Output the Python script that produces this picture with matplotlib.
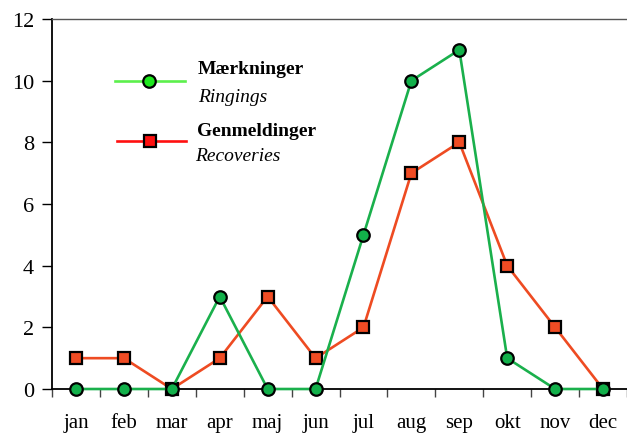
import matplotlib.pyplot as plt
from matplotlib.lines import Line2D

# data
months = ["jan", "feb", "mar", "apr", "maj", "jun", "jul", "aug", "sep", "okt", "nov", "dec"]
ringings = [0, 0, 0, 3, 0, 0, 5, 10, 11, 1, 0, 0]
recoveries = [1, 1, 0, 1, 3, 1, 2, 7, 8, 4, 2, 0]
yticks = [0, 2, 4, 6, 8, 10, 12]

plt.rcParams['font.family'] = ['Liberation Serif', 'DejaVu Serif']

fig = plt.figure(figsize=(6.27, 4.39), dpi=100)
ax = fig.add_axes([0.083, 0.1116, 0.917, 0.8428])

x = list(range(len(months)))
ax.plot(x, recoveries, color="#ee4b22", lw=1.9, marker="s", ms=9,
        mfc="#f04c24", mec="black", mew=1.6, clip_on=False, zorder=3)
ax.plot(x, ringings, color="#1ab04c", lw=1.9, marker="o", ms=9,
        mfc="#12b04a", mec="black", mew=1.6, clip_on=False, zorder=4)

ax.set_xlim(-0.5, 11.5)
ax.set_ylim(0, 12)
ax.set_yticks(yticks)
ax.set_yticklabels([str(v) for v in yticks], fontsize=16)
ax.set_xticks([i + 0.5 for i in range(-1, 12)])
ax.set_xticklabels([])
ax.set_xticks(x, minor=True)
ax.set_xticklabels(months, minor=True, fontsize=15)
ax.tick_params(axis="x", which="minor", length=0, pad=17)
ax.tick_params(axis="x", which="major", direction="out", length=6, width=1, color="#444444")
ax.tick_params(axis="y", direction="out", length=7, width=1, pad=6)

ax.spines["right"].set_visible(False)
ax.spines["top"].set_color("#555555")
ax.spines["top"].set_linewidth(1)
ax.spines["left"].set_linewidth(1.3)
ax.spines["bottom"].set_linewidth(1.3)

# hand-made legend
fig.add_artist(Line2D([115/627, 185/627], [1 - 82/439, 1 - 82/439], color="#5cf04c", lw=1.9,
                      transform=fig.transFigure))
fig.add_artist(Line2D([149/627], [1 - 82/439], marker="o", ms=9, mfc="#1ee81e", mec="black", mew=1.6,
                      transform=fig.transFigure))
fig.add_artist(Line2D([117/627, 186/627], [1 - 142/439, 1 - 142/439], color="#ff1010", lw=1.9,
                      transform=fig.transFigure))
fig.add_artist(Line2D([150/627], [1 - 142/439], marker="s", ms=9, mfc="#ff1010", mec="black", mew=1.6,
                      transform=fig.transFigure))
fig.text(198/627, 1 - 70/439, "Mærkninger", fontsize=14, fontweight="bold", va="center")
fig.text(198/627, 1 - 97/439, "Ringings", fontsize=14, style="italic", va="center")
fig.text(197/627, 1 - 131/439, "Genmeldinger", fontsize=14, fontweight="bold", va="center")
fig.text(195/627, 1 - 157/439, "Recoveries", fontsize=14, style="italic", va="center")

fig.savefig("out.png", dpi=100)
